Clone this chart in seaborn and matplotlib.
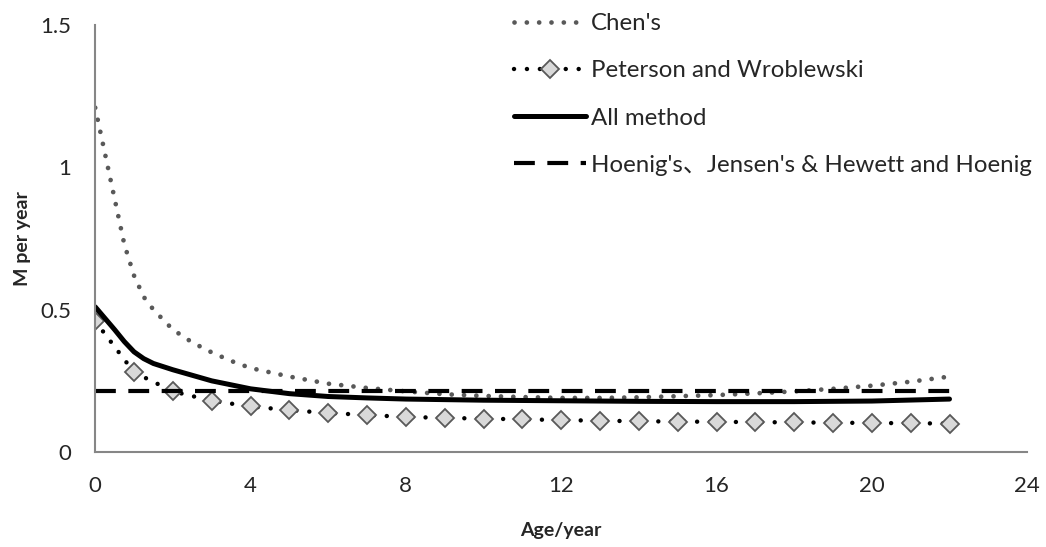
import matplotlib
matplotlib.use('Agg')
import matplotlib.pyplot as plt
import seaborn as sns
import numpy as np

sns.set_style('white')
plt.rcParams['font.family'] = ['Lato', 'Noto Sans CJK SC', 'DejaVu Sans']

# Chen's (read at uneven steps so the curve follows the picture)
chen_age = [0, 0.25, 0.5, 0.75, 1, 1.25, 1.5, 2, 2.5, 3, 3.5, 4, 5, 6, 7, 8, 9, 10,
            11, 12, 13, 14, 15, 16, 17, 18, 19, 20, 21, 22]
chen_m = [1.21, 1.05, 0.89, 0.73, 0.62, 0.545, 0.50, 0.43, 0.385, 0.35, 0.32, 0.295,
          0.265, 0.24, 0.225, 0.213, 0.203, 0.197, 0.193, 0.19, 0.19, 0.192, 0.196,
          0.2, 0.206, 0.213, 0.222, 0.233, 0.247, 0.265]

# Peterson and Wroblewski
pw_age = list(range(0, 23))
pw_m = [0.46, 0.28, 0.213, 0.18, 0.16, 0.147, 0.137, 0.13, 0.123, 0.12, 0.117, 0.115,
        0.112, 0.11, 0.108, 0.107, 0.106, 0.105, 0.104, 0.103, 0.102, 0.101, 0.10]

# All method
all_age = [0, 0.25, 0.5, 0.75, 1, 1.25, 1.5, 2, 3, 4, 5, 6, 7, 8, 10, 12, 14, 16, 18, 20, 22]
all_m = [0.51, 0.47, 0.43, 0.388, 0.352, 0.328, 0.311, 0.289, 0.25, 0.222, 0.205,
         0.195, 0.19, 0.186, 0.182, 0.18, 0.178, 0.177, 0.177, 0.179, 0.186]

# Hoenig's, Jensen's & Hewett and Hoenig
hoenig_age = [0, 22]
hoenig_m = [0.213, 0.213]

labels = ["Chen's", "Peterson and Wroblewski", "All method",
          "Hoenig's、Jensen's & Hewett and Hoenig"]
xticks = [0, 4, 8, 12, 16, 20, 24]
yticks = [0, 0.5, 1, 1.5]
ytick_labels = ['0', '0.5', '1', '1.5']

fig, ax = plt.subplots(figsize=(10.46, 5.47), dpi=100)
fig.subplots_adjust(left=0.091, right=0.982, top=0.954, bottom=0.1737)

sns.lineplot(x=chen_age, y=chen_m, ax=ax, color='#595959', lw=3.4,
             linestyle=(0, (0.01, 2.6)), dash_capstyle='round', label=labels[0])
sns.lineplot(x=pw_age, y=pw_m, ax=ax, color='black', lw=3.2,
             linestyle=(0, (0.01, 2.9)), dash_capstyle='round',
             marker='D', markersize=9, markerfacecolor='#d9d9d9',
             markeredgecolor='#595959', markeredgewidth=1.3, label=labels[1])
sns.lineplot(x=all_age, y=all_m, ax=ax, color='black', lw=3.6, label=labels[2])
sns.lineplot(x=hoenig_age, y=hoenig_m, ax=ax, color='black', lw=3,
             linestyle=(0, (5, 3)), label=labels[3])

ax.set_xlim(0, 24)
ax.set_ylim(0, 1.5)
ax.set_xticks(xticks)
ax.set_yticks(yticks)
ax.set_yticklabels(ytick_labels)
ax.tick_params(direction='in', length=6, color='#868686', labelsize=16)
ax.tick_params(axis='x', pad=17)
ax.tick_params(axis='y', pad=17)
for s in ['top', 'right']:
    ax.spines[s].set_visible(False)
for s in ['left', 'bottom']:
    ax.spines[s].set_color('#868686')
    ax.spines[s].set_linewidth(1.5)

ax.set_xlabel('Age/year', fontsize=14, fontweight='bold', labelpad=19)
ax.set_ylabel('M per year', fontsize=14, fontweight='bold', labelpad=7)

ax.legend(loc='upper left', bbox_to_anchor=(0.4914, 0.976), bbox_transform=fig.transFigure,
          frameon=False, fontsize=17.3, handlelength=3.0, handletextpad=0.2,
          labelspacing=1.09, borderpad=0, borderaxespad=0)

fig.savefig('out.png', dpi=100)
